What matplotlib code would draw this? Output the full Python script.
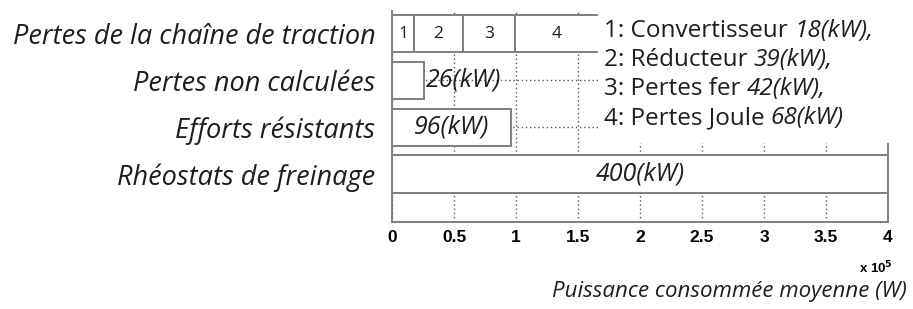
import matplotlib
matplotlib.use("Agg")
import matplotlib.pyplot as plt
from matplotlib.patches import Rectangle

categories = ["Pertes de la chaîne de traction", "Pertes non calculées",
              "Efforts résistants", "Rhéostats de freinage"]
traction_parts_kw = [18, 39, 42, 68]
traction_names = ["Convertisseur", "Réducteur", "Pertes fer", "Pertes Joule"]
single_kw = {"Pertes non calculées": 26, "Efforts résistants": 96, "Rhéostats de freinage": 400}
xticks_w = [0, 50000, 100000, 150000, 200000, 250000, 300000, 350000, 400000]
xtick_labels = ["0", "0.5", "1", "1.5", "2", "2.5", "3", "3.5", "4"]

FONT = "Open Sans"
EDGE = "#7f7f7f"
TXT = "#1e1e1e"

fig = plt.figure(figsize=(9.13, 3.09), dpi=100)
ax = fig.add_axes([392/913, 1-222/309, 496/913, 211/309])

ypos = {c: 4 - i for i, c in enumerate(categories)}
h = 0.8

# traction stacked
left = 0
for i, v in enumerate(traction_parts_kw):
    ax.barh(ypos[categories[0]], v*1000, left=left, height=h, color="white",
            edgecolor=EDGE, linewidth=1.4, zorder=2)
    ax.text(left + v*500, ypos[categories[0]], str(i+1), ha="center", va="center",
            fontsize=12.5, family=FONT, color=TXT, zorder=4)
    left += v*1000

for c in categories[1:]:
    v = single_kw[c]
    ax.barh(ypos[c], v*1000, height=h, color="white", edgecolor=EDGE,
            linewidth=1.4, zorder=2)

# value labels
VFS = 18
v = single_kw["Pertes non calculées"]
ax.text(v*1000 + 1500, ypos["Pertes non calculées"], f"{v}(kW)", ha="left", va="center",
        fontsize=VFS, style="italic", family=FONT, color=TXT, zorder=4)
v = single_kw["Efforts résistants"]
ax.text(v*500, ypos["Efforts résistants"], f"{v}(kW)", ha="center", va="center",
        fontsize=VFS, style="italic", family=FONT, color=TXT, zorder=4)
v = single_kw["Rhéostats de freinage"]
ax.text(v*500, ypos["Rhéostats de freinage"], f"{v}(kW)", ha="center", va="center",
        fontsize=VFS, style="italic", family=FONT, color=TXT, zorder=4)

ax.set_xlim(0, 400000)
ax.set_ylim(-0.02, 4.48)
ax.set_xticks(xticks_w)
ax.set_xticklabels(xtick_labels, fontsize=12.5, fontweight="bold", family="Liberation Sans")
ax.set_yticks([ypos[c] for c in categories])
ax.set_yticklabels(categories, fontsize=19.5, style="italic", family=FONT, color=TXT)
ax.tick_params(axis="both", length=0)
ax.tick_params(axis="y", pad=12)
ax.tick_params(axis="x", pad=6)
ax.grid(True, linestyle=(0, (1, 2)), color="#555555", linewidth=1.0)
ax.set_axisbelow(True)
for s in ["left", "right", "bottom"]:
    ax.spines[s].set_color(EDGE)
    ax.spines[s].set_linewidth(1.4)
ax.spines["top"].set_visible(False)

# white box behind legend text
ax.add_patch(Rectangle((0.415, 0.375), 0.6, 0.7, transform=ax.transAxes,
                       facecolor="white", edgecolor="none", zorder=2.6, clip_on=False))

ys = [31, 60, 89, 118]
for i, (n, v) in enumerate(zip(traction_names, traction_parts_kw)):
    end = "," if i < 3 else ""
    t1 = fig.text(604/913, 1 - ys[i]/309, f"{i+1}: {n} ", ha="left", va="center",
                  fontsize=17.5, family=FONT, color=TXT, zorder=5)
    fig.canvas.draw()
    bb = t1.get_window_extent()
    fig.text(bb.x1/913, 1 - ys[i]/309, f"{v}(kW){end}", ha="left", va="center",
             fontsize=17.5, style="italic", family=FONT, color=TXT, zorder=5)

fig.text(876/913, 1 - 268/309, r"x 10$^{\mathbf{5}}$", ha="center", va="center",
         fontsize=9.5, fontweight="bold", family="Liberation Sans")
fig.text(907/913, 1 - 291/309, "Puissance consommée moyenne (W)", ha="right", va="center",
         fontsize=16, style="italic", family=FONT, color=TXT)

fig.savefig("out.png", dpi=100)
